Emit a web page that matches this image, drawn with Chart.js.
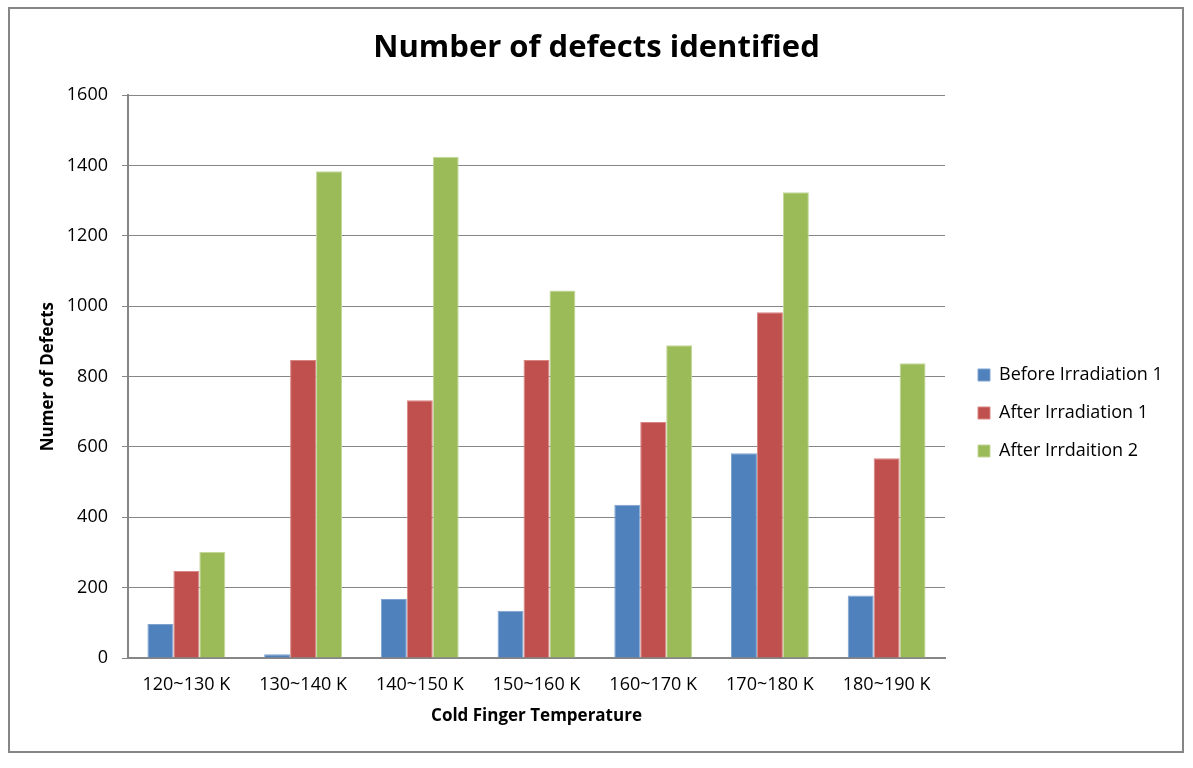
<!DOCTYPE html>
<html>
<head>
<meta charset="utf-8">
<script src="https://cdn.jsdelivr.net/npm/chart.js@4.4.1/dist/chart.umd.min.js"></script>
<style>
  html, body { margin: 0; padding: 0; background: #fff; }
  canvas { display: block; }
</style>
</head>
<body>
<canvas id="c" width="1193" height="768"></canvas>
<script>
const categories = ['120~130 K', '130~140 K', '140~150 K', '150~160 K', '160~170 K', '170~180 K', '180~190 K'];
const beforeIrradiation1 = [97, 11, 168, 134, 436, 582, 178];
const afterIrradiation1 = [247, 847, 733, 847, 671, 983, 568];
const afterIrrdaition2 = [301, 1384, 1425, 1045, 889, 1324, 838];
const seriesNames = ['Before Irradiation 1', 'After Irradiation 1', 'After Irrdaition 2'];
const yTicks = [0, 200, 400, 600, 800, 1000, 1200, 1400, 1600];

const FONT = "'Open Sans', 'Liberation Sans', sans-serif";
const AXIS_GRAY = '#868686';

const framePlugin = {
  id: 'frame',
  beforeDraw(chart) {
    const ctx = chart.ctx;
    ctx.save();
    ctx.fillStyle = '#ffffff';
    ctx.fillRect(0, 0, chart.width, chart.height);
    ctx.strokeStyle = AXIS_GRAY;
    ctx.lineWidth = 2;
    ctx.strokeRect(9, 8, chart.width - 19, chart.height - 24);
    ctx.restore();
  }
};

const legendShift = {
  id: 'legendShift',
  afterLayout(chart) {
    const lg = chart.legend;
    if (!lg) return;
    const dx = 13, dy = 48;
    lg.left += dx; lg.right += dx;
    lg.top += dy; lg.bottom += dy;
  }
};

new Chart(document.getElementById('c'), {
  type: 'bar',
  data: {
    labels: categories,
    datasets: [
      { label: seriesNames[0], data: beforeIrradiation1, backgroundColor: '#4F81BD', borderColor: '#7FA3CF', borderWidth: 1 },
      { label: seriesNames[1], data: afterIrradiation1, backgroundColor: '#C0504D', borderColor: '#D88583', borderWidth: 1 },
      { label: seriesNames[2], data: afterIrrdaition2, backgroundColor: '#9BBB59', borderColor: '#C3D79B', borderWidth: 1 }
    ]
  },
  options: {
    responsive: false,
    animation: false,
    devicePixelRatio: 1,
    layout: { padding: { left: 34, right: 34, top: 0, bottom: 38 } },
    datasets: { bar: { categoryPercentage: 0.667, barPercentage: 1.0 } },
    plugins: {
      title: {
        display: true,
        text: 'Number of defects identified',
        color: '#000',
        font: { family: FONT, size: 31, weight: 'bold', lineHeight: 1.2 },
        padding: { top: 30, bottom: 28 }
      },
      legend: {
        position: 'right',
        maxWidth: 214,
        labels: {
          color: '#000',
          font: { family: FONT, size: 18 },
          boxWidth: 12,
          boxHeight: 12,
          padding: 20
        }
      },
      tooltip: { enabled: false }
    },
    scales: {
      x: {
        grid: { display: false, drawTicks: false },
        border: { display: true, color: AXIS_GRAY, width: 2 },
        ticks: { color: '#000', font: { family: FONT, size: 18 }, padding: 16, maxRotation: 0 },
        title: {
          display: true,
          text: 'Cold Finger Temperature',
          color: '#000',
          font: { family: FONT, size: 17, weight: 'bold', lineHeight: 1.2 },
          padding: 4
        },
        afterFit(scale) { scale.height = 72; }
      },
      y: {
        min: yTicks[0],
        max: yTicks[yTicks.length - 1],
        afterBuildTicks(scale) { scale.ticks = yTicks.map(v => ({ value: v })); },
        grid: { color: AXIS_GRAY, lineWidth: 1, tickLength: 6, drawTicks: true },
        border: { display: true, color: AXIS_GRAY, width: 2 },
        ticks: { color: '#000', font: { family: FONT, size: 18 }, padding: 14, callback: v => String(v) },
        title: {
          display: true,
          text: 'Numer of Defects',
          color: '#000',
          font: { family: FONT, size: 17, weight: 'bold', lineHeight: 1.2 },
          padding: 4
        },
        afterFit(scale) { scale.width = 94; }
      }
    }
  },
  plugins: [framePlugin, legendShift]
});
</script>
</body>
</html>
